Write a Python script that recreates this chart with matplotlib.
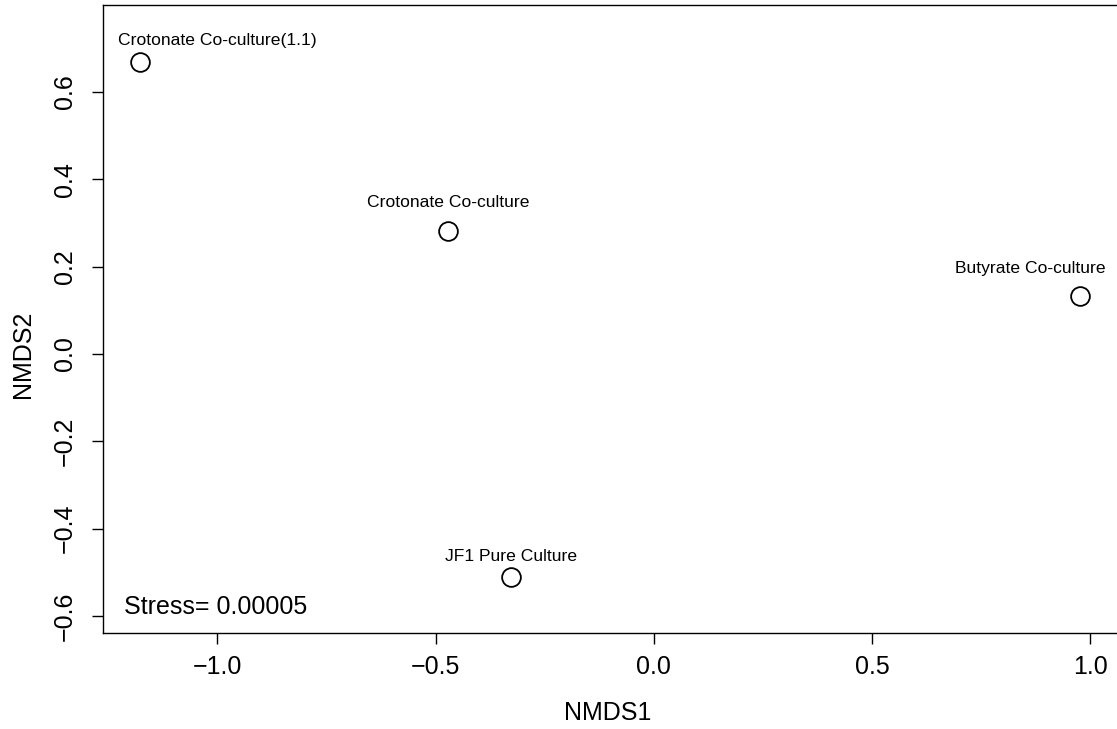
import numpy as np
import matplotlib.pyplot as plt

plt.rcParams['font.family'] = ['Liberation Sans', 'DejaVu Sans']

# NMDS scores
samples = ['Crotonate Co-culture(1.1)', 'Crotonate Co-culture',
           'Butyrate Co-culture', 'JF1 Pure Culture']
nmds1 = [-1.177, -0.472, 0.976, -0.327]
nmds2 = [0.668, 0.281, 0.133, -0.511]
stress = 0.00005

# label offsets from the point, in pixels (labels pushed to stay in the box)
lab_dx = [77, 0, -50, 0]
lab_dy = [22, 29, 27, 21]

fig = plt.figure(figsize=(11.17, 7.29), dpi=100)
W, H = 1117, 729
left, right, top, bottom = 103, 1125, 5, 633
ax = fig.add_axes([left / W, (H - bottom) / H, (right - left) / W, (bottom - top) / H])

ax.plot(nmds1, nmds2, 'o', ms=13.5, mfc='none', mec='black', mew=1.3)

for name, x, y, dx, dy in zip(samples, nmds1, nmds2, lab_dx, lab_dy):
    ax.annotate(name, (x, y), xytext=(dx * 0.72, dy * 0.72), textcoords='offset points',
                ha='center', va='center', fontsize=12.6)

ax.set_xlim(-1.262, 1.0795)
ax.set_ylim(-0.6388, 0.7986)
ax.set_xticks([-1.0, -0.5, 0.0, 0.5, 1.0])
ax.set_yticks([-0.6, -0.4, -0.2, 0.0, 0.2, 0.4, 0.6])
ax.set_xticklabels(['\u22121.0', '\u22120.5', '0.0', '0.5', '1.0'])
ax.set_yticklabels(['\u22120.6', '\u22120.4', '\u22120.2', '0.0', '0.2', '0.4', '0.6'],
                   rotation=90, va='center')
ax.tick_params(direction='out', length=8, width=1, labelsize=18)
ax.tick_params(axis='x', pad=8)
ax.tick_params(axis='y', pad=11)
for s in ax.spines.values():
    s.set_linewidth(1)

ax.text(0.494, -0.1274, 'NMDS1', transform=ax.transAxes, ha='center', va='center', fontsize=18)
ax.text(-0.0783, 0.444, 'NMDS2', transform=ax.transAxes, ha='center', va='center',
        rotation=90, fontsize=18)
ax.text(0.0205, 0.0414, 'Stress= %.5f' % stress, transform=ax.transAxes,
        ha='left', va='center', fontsize=18)

fig.savefig('out.png', dpi=100)
